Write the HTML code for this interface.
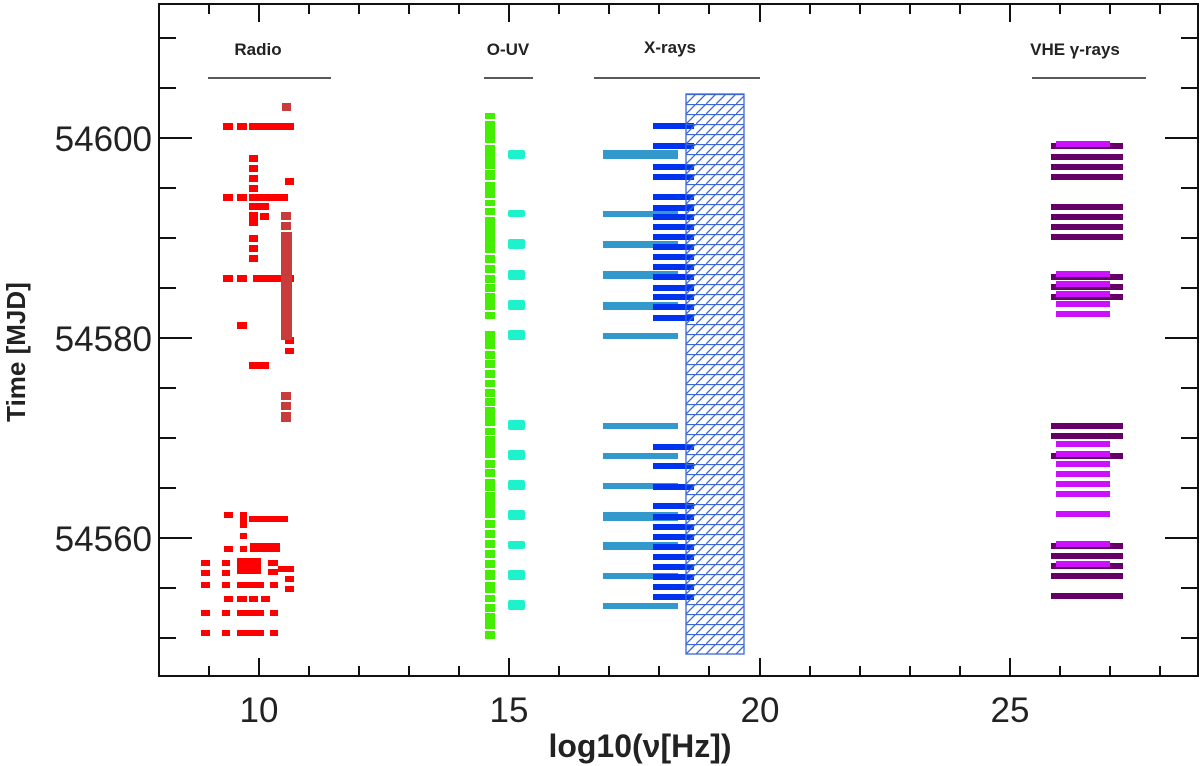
<!DOCTYPE html>
<html><head><meta charset="utf-8"><style>
body{margin:0;background:#fff}
svg{display:block}
text{font-family:"Liberation Sans",sans-serif;fill:#222}
</style></head><body>
<svg width="1200" height="766" viewBox="0 0 1200 766" xmlns="http://www.w3.org/2000/svg">
<defs>
<pattern id="h" width="10" height="10" patternUnits="userSpaceOnUse" x="686" y="94">
<line x1="0" y1="0.5" x2="10" y2="0.5" stroke="#3a66d8" stroke-width="1.3"/>
<line x1="-1" y1="11" x2="11" y2="-1" stroke="#3a66d8" stroke-width="1.3"/>
</pattern>
</defs>
<g fill="#f00">
<rect x="223" y="123" width="10" height="7"/><rect x="237" y="123" width="10" height="7"/><rect x="249" y="123" width="45" height="7"/>
<rect x="249" y="155" width="9" height="7"/><rect x="249" y="165" width="9" height="7"/><rect x="249" y="175" width="9" height="7"/><rect x="285" y="178" width="9" height="7"/><rect x="249" y="185" width="9" height="7"/>
<rect x="223" y="194" width="10" height="7"/><rect x="237" y="194" width="10" height="7"/><rect x="249" y="194" width="39" height="7"/>
<rect x="249" y="203" width="20" height="7"/><rect x="249" y="212" width="9" height="14"/><rect x="260" y="213" width="9" height="7"/>
<rect x="249" y="235" width="9" height="7"/><rect x="249" y="245" width="9" height="7"/><rect x="249" y="255" width="9" height="7"/>
<rect x="223" y="275" width="10" height="7"/><rect x="237" y="275" width="10" height="7"/><rect x="253" y="275" width="41" height="7"/>
<rect x="237" y="322" width="10" height="7"/><rect x="285" y="337" width="9" height="7"/><rect x="285" y="348" width="9" height="6"/>
<rect x="249" y="362" width="20" height="7"/>
<rect x="224" y="512" width="9" height="6"/><rect x="240" y="512" width="7" height="16"/><rect x="249" y="516" width="39" height="6"/>
<rect x="240" y="533" width="7" height="6"/>
<rect x="224" y="546" width="9" height="6"/><rect x="240" y="546" width="7" height="6"/><rect x="250" y="543" width="30" height="9"/>
<rect x="201" y="560" width="9" height="6"/><rect x="222" y="560" width="8" height="6"/><rect x="237" y="558" width="24" height="16"/><rect x="268" y="560" width="10" height="6"/>
<rect x="201" y="570" width="9" height="6"/><rect x="222" y="570" width="8" height="6"/><rect x="268" y="569" width="10" height="6"/><rect x="278" y="566" width="16" height="6"/>
<rect x="201" y="582" width="9" height="6"/><rect x="222" y="582" width="8" height="6"/><rect x="237" y="582" width="27" height="6"/><rect x="270" y="582" width="8" height="6"/><rect x="285" y="576" width="9" height="6"/><rect x="285" y="586" width="9" height="6"/>
<rect x="224" y="596" width="9" height="6"/><rect x="237" y="596" width="10" height="6"/><rect x="249" y="596" width="9" height="6"/><rect x="261" y="596" width="9" height="6"/>
<rect x="201" y="610" width="9" height="6"/><rect x="222" y="610" width="8" height="6"/><rect x="237" y="610" width="27" height="6"/><rect x="270" y="610" width="8" height="6"/>
<rect x="201" y="630" width="9" height="6"/><rect x="222" y="630" width="8" height="6"/><rect x="237" y="630" width="27" height="6"/><rect x="270" y="630" width="8" height="6"/>
</g>
<g fill="#c83c3c">
<rect x="282" y="103" width="9" height="8"/><rect x="281" y="212" width="10" height="8"/><rect x="281" y="222" width="10" height="8"/><rect x="281" y="232" width="11" height="108"/>
<rect x="281" y="392" width="10" height="8"/><rect x="281" y="402" width="10" height="8"/><rect x="281" y="412" width="10" height="10"/>
</g>
<g fill="#44ee00">
<rect x="485" y="113" width="10" height="6"/><rect x="485" y="121" width="10" height="22"/><rect x="485" y="145" width="10" height="24"/><rect x="485" y="170" width="10" height="10"/><rect x="485" y="182" width="10" height="16"/><rect x="485" y="200" width="10" height="6"/><rect x="485" y="208" width="10" height="7"/><rect x="485" y="217" width="10" height="36"/><rect x="485" y="255" width="10" height="8"/><rect x="485" y="265" width="10" height="8"/><rect x="485" y="275" width="10" height="8"/><rect x="485" y="284" width="10" height="8"/><rect x="485" y="293" width="10" height="17"/><rect x="485" y="312" width="10" height="7"/>
<rect x="485" y="331" width="10" height="18"/><rect x="485" y="351" width="10" height="8"/><rect x="485" y="360" width="10" height="8"/><rect x="485" y="370" width="10" height="8"/><rect x="485" y="380" width="10" height="7"/><rect x="485" y="389" width="10" height="8"/><rect x="485" y="398" width="10" height="8"/><rect x="485" y="407" width="10" height="19"/><rect x="485" y="428" width="10" height="7"/><rect x="485" y="436" width="10" height="22"/><rect x="485" y="460" width="10" height="8"/><rect x="485" y="469" width="10" height="8"/><rect x="485" y="479" width="10" height="12"/><rect x="485" y="492" width="10" height="26"/><rect x="485" y="520" width="10" height="8"/><rect x="485" y="530" width="10" height="8"/><rect x="485" y="540" width="10" height="8"/><rect x="485" y="550" width="10" height="8"/><rect x="485" y="560" width="10" height="8"/><rect x="485" y="570" width="10" height="10"/><rect x="485" y="582" width="10" height="11"/><rect x="485" y="595" width="10" height="7"/><rect x="485" y="604" width="10" height="8"/><rect x="485" y="613" width="10" height="16"/><rect x="485" y="631" width="10" height="8"/>
</g>
<g fill="#1ef2cc">
<rect x="508" y="150" width="17" height="9" rx="2"/><rect x="508" y="210" width="17" height="7" rx="2"/><rect x="508" y="239" width="17" height="10" rx="2"/><rect x="508" y="270" width="17" height="10" rx="2"/><rect x="508" y="300" width="17" height="10" rx="2"/><rect x="508" y="330" width="17" height="10" rx="2"/><rect x="508" y="420" width="17" height="10" rx="2"/><rect x="508" y="450" width="17" height="10" rx="2"/><rect x="508" y="480" width="17" height="10" rx="2"/><rect x="508" y="510" width="17" height="10" rx="2"/><rect x="508" y="541" width="17" height="8" rx="2"/><rect x="508" y="570" width="17" height="10" rx="2"/><rect x="508" y="600" width="17" height="10" rx="2"/>
</g>
<g fill="#3399cc">
<rect x="603" y="150" width="75" height="9"/><rect x="603" y="211" width="75" height="6"/><rect x="603" y="241" width="75" height="7"/><rect x="603" y="271" width="75" height="8"/><rect x="603" y="302" width="75" height="8"/><rect x="603" y="333" width="75" height="6"/><rect x="603" y="423" width="75" height="6"/><rect x="603" y="453" width="75" height="6"/><rect x="603" y="483" width="75" height="6"/><rect x="603" y="512" width="75" height="9"/><rect x="603" y="542" width="75" height="8"/><rect x="603" y="573" width="75" height="6"/><rect x="603" y="603" width="75" height="6"/>
</g>
<g fill="#0033ee">
<rect x="653" y="123" width="41" height="6"/><rect x="653" y="143" width="41" height="6"/><rect x="653" y="164" width="41" height="6"/><rect x="653" y="174" width="41" height="6"/>
<rect x="653" y="194" width="41" height="6"/><rect x="653" y="205" width="41" height="6"/><rect x="653" y="214" width="41" height="6"/><rect x="653" y="224" width="41" height="6"/><rect x="653" y="234" width="41" height="6"/><rect x="653" y="244" width="41" height="6"/><rect x="653" y="254" width="41" height="6"/><rect x="653" y="264" width="41" height="6"/><rect x="653" y="274" width="41" height="6"/><rect x="653" y="285" width="41" height="6"/><rect x="653" y="294" width="41" height="6"/><rect x="653" y="304" width="41" height="6"/><rect x="653" y="315" width="41" height="6"/>
<rect x="653" y="444" width="41" height="6"/><rect x="653" y="463" width="41" height="6"/><rect x="653" y="484" width="41" height="6"/><rect x="653" y="503" width="41" height="6"/><rect x="653" y="514" width="41" height="6"/><rect x="653" y="524" width="41" height="6"/><rect x="653" y="534" width="41" height="6"/><rect x="653" y="544" width="41" height="6"/><rect x="653" y="554" width="41" height="6"/><rect x="653" y="564" width="41" height="6"/><rect x="653" y="574" width="41" height="6"/><rect x="653" y="584" width="41" height="6"/><rect x="653" y="594" width="41" height="6"/>
</g>
<rect x="686" y="94" width="58" height="560" fill="url(#h)" stroke="#3a66d8" stroke-width="1.3"/>
<g fill="#660066">
<rect x="1051" y="143" width="72" height="6"/><rect x="1051" y="154" width="72" height="6"/><rect x="1051" y="164" width="72" height="6"/><rect x="1051" y="174" width="72" height="6"/>
<rect x="1051" y="204" width="72" height="6"/><rect x="1051" y="214" width="72" height="6"/><rect x="1051" y="224" width="72" height="6"/><rect x="1051" y="234" width="72" height="6"/>
<rect x="1051" y="274" width="72" height="6"/><rect x="1051" y="284" width="72" height="6"/><rect x="1051" y="294" width="72" height="6"/>
<rect x="1051" y="423" width="72" height="6"/><rect x="1051" y="433" width="72" height="6"/><rect x="1051" y="453" width="72" height="6"/>
<rect x="1051" y="543" width="72" height="6"/><rect x="1051" y="553" width="72" height="6"/><rect x="1051" y="563" width="72" height="6"/><rect x="1051" y="573" width="72" height="6"/><rect x="1051" y="593" width="72" height="6"/>
</g>
<g fill="#cc11ff">
<rect x="1056" y="141" width="54" height="6"/>
<rect x="1056" y="271" width="54" height="6"/><rect x="1056" y="281" width="54" height="6"/><rect x="1056" y="291" width="54" height="6"/><rect x="1056" y="301" width="54" height="6"/><rect x="1056" y="311" width="54" height="6"/>
<rect x="1056" y="441" width="54" height="6"/><rect x="1056" y="451" width="54" height="6"/><rect x="1056" y="461" width="54" height="6"/><rect x="1056" y="471" width="54" height="6"/><rect x="1056" y="481" width="54" height="6"/><rect x="1056" y="491" width="54" height="6"/><rect x="1056" y="511" width="54" height="6"/>
<rect x="1056" y="541" width="54" height="6"/><rect x="1056" y="561" width="54" height="6"/>
</g>
<g font-weight="bold" font-size="17" text-anchor="middle">
<text x="258" y="55">Radio</text><text x="508" y="55">O-UV</text><text x="670" y="53">X-rays</text><text x="1075" y="55">VHE γ-rays</text>
</g>
<g stroke="#222" stroke-width="1.5">
<line x1="208" y1="78" x2="331" y2="78"/><line x1="484" y1="78" x2="533" y2="78"/><line x1="594" y1="78" x2="760" y2="78"/><line x1="1032" y1="78" x2="1146" y2="78"/>
</g>
<g stroke="#111" stroke-width="2" fill="none">
<rect x="159" y="4" width="1039" height="672"/>
<path d="M259 676v-18M509 676v-18M760 676v-18M1010 676v-18M259 4v18M509 4v18M760 4v18M1010 4v18
M209 676v-10M309 676v-10M359 676v-10M409 676v-10M459 676v-10M559 676v-10M609 676v-10M659 676v-10M709 676v-10M810 676v-10M860 676v-10M910 676v-10M960 676v-10M1060 676v-10M1110 676v-10M1160 676v-10
M209 4v10M309 4v10M359 4v10M409 4v10M459 4v10M559 4v10M609 4v10M659 4v10M709 4v10M810 4v10M860 4v10M910 4v10M960 4v10M1060 4v10M1110 4v10M1160 4v10
M159 138h33M159 338h33M159 538h33M1198 138h-33M1198 338h-33M1198 538h-33
M159 38h17M159 88h17M159 188h17M159 238h17M159 288h17M159 388h17M159 438h17M159 488h17M159 588h17M159 638h17
M1198 38h-17M1198 88h-17M1198 188h-17M1198 238h-17M1198 288h-17M1198 388h-17M1198 438h-17M1198 488h-17M1198 588h-17M1198 638h-17"/>
</g>
<g font-size="35" text-anchor="middle">
<text x="259" y="722">10</text><text x="509" y="722">15</text><text x="760" y="722">20</text><text x="1010" y="722">25</text>
</g>
<g font-size="35" text-anchor="end">
<text x="152" y="151">54600</text><text x="152" y="351">54580</text><text x="152" y="551">54560</text>
</g>
<text x="640" y="757" font-size="32" font-weight="bold" text-anchor="middle">log10(ν[Hz])</text>
<text transform="translate(25,352) rotate(-90)" font-size="26" font-weight="bold" text-anchor="middle">Time [MJD]</text>
</svg>
</body></html>
